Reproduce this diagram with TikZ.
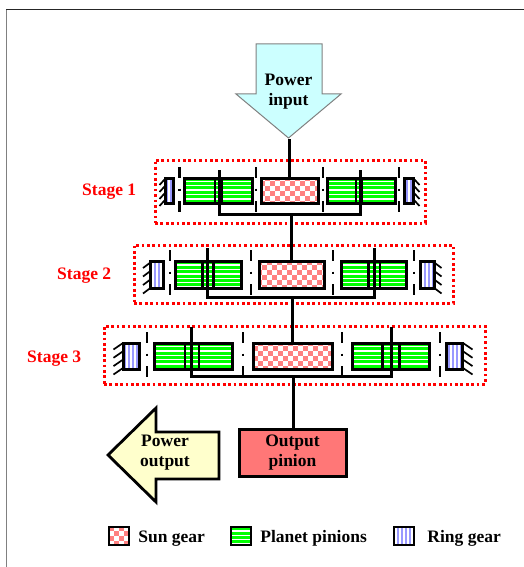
\documentclass[tikz,border=0pt]{standalone}
\usepackage{fontspec}
\setmainfont{Liberation Serif}
\usepackage{xcolor}
\usepackage{tikz}
\usetikzlibrary{positioning}
\definecolor{sunred}{RGB}{255,128,128}
\definecolor{planetgreen}{RGB}{0,255,0}
\definecolor{ringblue}{RGB}{153,153,255}
\definecolor{inputcyan}{RGB}{204,255,255}
\definecolor{outputyellow}{RGB}{255,255,204}
\definecolor{pinionred}{RGB}{255,119,119}
\definecolor{framegrey}{RGB}{128,128,128}
\tikzset{
  lab/.style      ={font=\fontsize{17.5}{20}\selectfont\bfseries, align=center, inner sep=0pt},
  stagelab/.style ={lab, text=red, anchor=west},
  stagebox/.style ={draw=red, line width=3pt, dash pattern=on 2.7pt off 2.7pt, inner sep=0pt},
  gear/.style     ={draw=black, line width=3pt, inner sep=0pt},
  sunbox/.style   ={gear, fill=white, path picture={
      \foreach \i in {-9,...,8}{\foreach \j in {-4,...,3}{
        \ifodd\numexpr\i+\j+20\relax\else
          \fill[sunred] (\i*5,\j*5) rectangle ++(5,5);
        \fi}}}},
  planetbox/.style={gear, fill=white, path picture={
      \foreach \k in {-4,...,3}{
        \fill[planetgreen] (-60,\k*4.4) rectangle (60,\k*4.4+3);}}},
  overlap/.style  ={gear, line width=2.4pt},
  ringbox/.style  ={gear, fill=white, path picture={
      \foreach \k in {-3,...,2}{
        \fill[ringblue] (\k*4+1,-20) rectangle (\k*4+3,20);}}},
  bearing/.style  ={draw=black, line width=2.5pt, dash pattern=on 11pt off 10.5pt on 2pt off 10.5pt on 11pt},
  hatch/.style    ={draw=black, line width=1.7pt},
  shaft/.style    ={draw=black, line width=3pt},
}
\begin{document}
\begin{tikzpicture}[x=1pt,y=-1pt]
\useasboundingbox (0,0) rectangle (524,567);
\draw[framegrey,line width=1.5pt] (6.5,567) -- (6.5,9.5);
\draw[black!85,line width=1.5pt] (6,9.5) -- (524,9.5);

% ---------- power input ----------
\draw[draw=framegrey,fill=inputcyan,line width=1pt] (256,44) -- (322,44) -- (322,94) -- (341,94)
  -- (288.5,138) -- (236,94) -- (256,94) -- cycle;
\node[lab] (powerin) at (288.5,92) {Power\\input};
\coordinate (intip) at (289,139);

% ---------- stage 1 ----------
\node[stagebox,minimum width=270pt,minimum height=63pt] (stage1) at (290,191.5) {};
\node[stagelab] (stage1lab) at (82,191.5) {Stage 1};
\node[ringbox,minimum width=7.5pt,minimum height=24.5pt] (ring1l) at (169.25,190.75) {};
\node[planetbox,minimum width=68pt,minimum height=24.5pt] (planet1l) at (218,190.75) {};
\node[overlap,minimum width=7pt,minimum height=24.5pt] (over1l) at (218.5,190.75) {};
\node[sunbox,minimum width=57.5pt,minimum height=24.5pt] (sun1) at (289.75,190.75) {};
\node[planetbox,minimum width=68pt,minimum height=24.5pt] (planet1r) at (361.5,190.75) {};
\node[overlap,minimum width=6.5pt,minimum height=24.5pt] (over1r) at (359,190.75) {};
\node[ringbox,minimum width=9pt,minimum height=24.5pt] (ring1r) at (409,190.75) {};
\foreach \x in {179.5,256,323,399}{
  \draw[bearing] (\x,167) -- (\x,212.5);
}
\foreach \y in {179,186,193,200}{
  \draw[hatch] (165,\y) -- ++(-5.5,6);
  \draw[hatch] (414,\y) -- ++(5.5,6);
}
\coordinate (arm1l) at (219,170);
\coordinate (arm1r) at (360,170);
\coordinate (hub1) at (291,214);
\draw[shaft] (arm1l) |- (hub1) -| (arm1r);
\draw[shaft] (intip) -- (intip |- sun1.north);

% ---------- stage 2 ----------
\node[stagebox,minimum width=319pt,minimum height=58pt] (stage2) at (293.5,274) {};
\node[stagelab] (stage2lab) at (57,275.5) {Stage 2};
\node[ringbox,minimum width=13pt,minimum height=27pt] (ring2l) at (157,274.5) {};
\node[planetbox,minimum width=66pt,minimum height=27pt] (planet2l) at (208.5,274.5) {};
\node[overlap,minimum width=11pt,minimum height=27pt] (over2l) at (207.8,274.5) {};
\node[sunbox,minimum width=65pt,minimum height=27pt] (sun2) at (292,274.5) {};
\node[planetbox,minimum width=65pt,minimum height=27pt] (planet2r) at (374,274.5) {};
\node[overlap,minimum width=11.7pt,minimum height=27pt] (over2r) at (374.2,274.5) {};
\node[ringbox,minimum width=13.5pt,minimum height=27pt] (ring2r) at (427.25,274.5) {};
\foreach \x in {170,251,333,414}{
  \draw[bearing] (\x,250) -- (\x,296);
}
\foreach \y in {262,270.5,279,287.5}{
  \draw[hatch] (151,\y) -- ++(-8,6);
  \draw[hatch] (433.5,\y) -- ++(8,6);
}
\coordinate (arm2l) at (207,248);
\coordinate (arm2r) at (374,248);
\coordinate (hub2) at (292,297);
\draw[shaft] (arm2l) |- (hub2) -| (arm2r);
\draw[shaft] (hub1) -- (hub1 |- sun2.north);

% ---------- stage 3 ----------
\node[stagebox,minimum width=381pt,minimum height=58pt] (stage3) at (294.5,355) {};
\node[stagelab] (stage3lab) at (27,358.5) {Stage 3};
\node[ringbox,minimum width=16.5pt,minimum height=26pt] (ring3l) at (131.25,356) {};
\node[planetbox,minimum width=78pt,minimum height=26pt] (planet3l) at (193,356) {};
\node[overlap,minimum width=14pt,minimum height=26pt] (over3l) at (192,356) {};
\node[sunbox,minimum width=79pt,minimum height=26pt] (sun3) at (292.5,356) {};
\node[planetbox,minimum width=77.5pt,minimum height=26pt] (planet3r) at (390.75,356) {};
\node[overlap,minimum width=17pt,minimum height=26pt] (over3r) at (390.8,356) {};
\node[ringbox,minimum width=16pt,minimum height=26pt] (ring3r) at (454.5,356) {};
\foreach \x in {147,243,342,440}{
  \draw[bearing] (\x,332) -- (\x,378);
}
\foreach \y in {343,351.3,359.6,368}{
  \draw[hatch] (123,\y) -- ++(-9.5,6.5);
  \draw[hatch] (463,\y) -- ++(9.5,6.5);
}
\coordinate (arm3l) at (191,327);
\coordinate (arm3r) at (391,327);
\coordinate (hub3) at (293.3,376);
\draw[shaft] (arm3l) |- (hub3) -| (arm3r);
\draw[shaft] (hub2) -- (hub2 |- sun3.north);

% ---------- output ----------
\draw[draw=black,fill=outputyellow,line width=2.8pt] (219,432) -- (156,432) -- (156,408) -- (108,455)
  -- (156,502) -- (156,479) -- (219,479) -- cycle;
\node[lab] (powerout) at (165,453) {Power\\output};
\node[gear,fill=pinionred,minimum width=107pt,minimum height=47pt,lab] (pinion) at (292.5,453) {Output\\pinion};
\draw[shaft] (hub3) -- (hub3 |- pinion.north);

% ---------- legend ----------
\node[sunbox,line width=2.4pt,minimum width=20pt,minimum height=18pt] (keysun) at (119,536) {};
\node[lab,right=8pt of keysun,yshift=-2.5pt] (keysunlab) {Sun gear};
\node[planetbox,line width=2.4pt,minimum width=20pt,minimum height=18pt] (keyplanet) at (241,536) {};
\node[lab,right=8pt of keyplanet,yshift=-2.5pt] (keyplanetlab) {Planet pinions};
\node[ringbox,line width=2.4pt,minimum width=20pt,minimum height=18pt] (keyring) at (404,536) {};
\node[lab,right=12pt of keyring,yshift=-2.5pt] (keyringlab) {Ring gear};
\end{tikzpicture}
\end{document}
